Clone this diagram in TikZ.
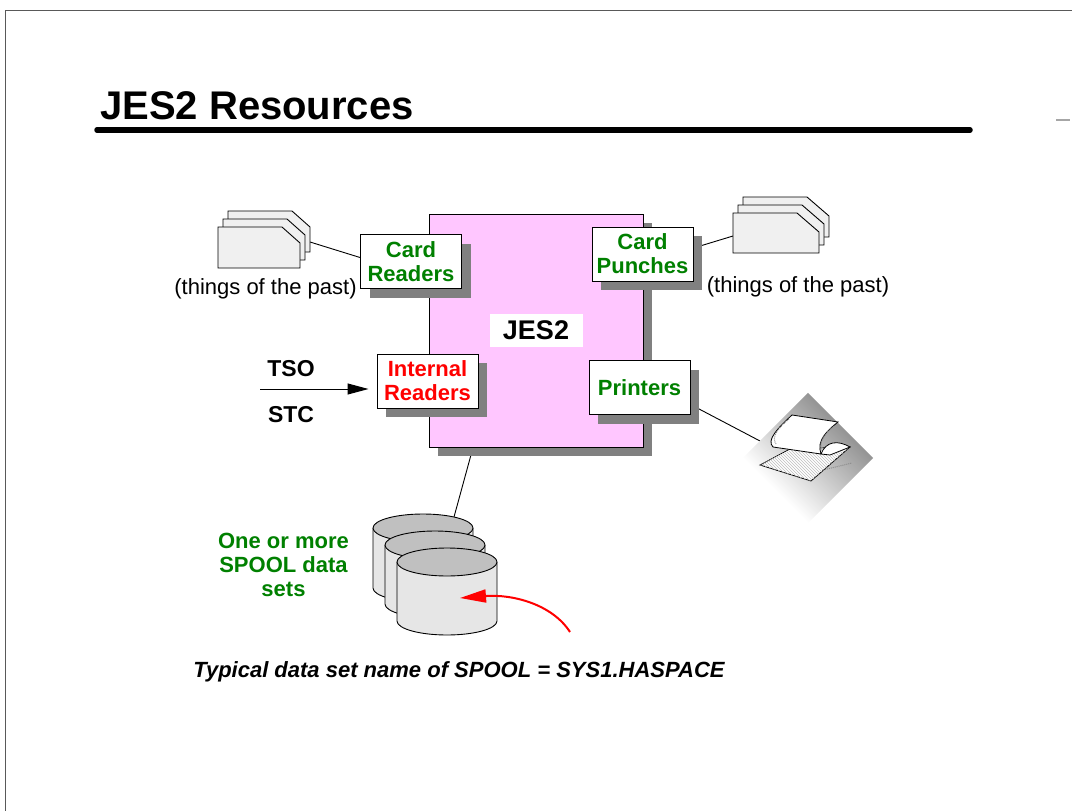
\documentclass[tikz,border=0pt]{standalone}
\usepackage{fontspec}
\setmainfont{Liberation Sans}
\usetikzlibrary{arrows.meta, shadows, backgrounds, patterns, positioning}
\definecolor{jespink}{RGB}{255,198,255}
\definecolor{resgreen}{RGB}{0,128,0}
\definecolor{resred}{RGB}{255,0,0}
\definecolor{shadowgray}{RGB}{128,128,128}
\definecolor{cardgray}{RGB}{240,240,240}
\definecolor{disktop}{RGB}{192,192,192}
\definecolor{diskside}{RGB}{230,230,230}

\begin{document}
\begin{tikzpicture}[x=1pt, y=-1pt,
    boxshadow/.style={drop shadow={shadow xshift=9pt, shadow yshift=-9pt, fill=shadowgray, opacity=1}},
    resbox/.style={draw, line width=1pt, fill=white, minimum width=101pt, minimum height=54pt,
        inner sep=0pt, align=center, font=\fontsize{22}{24}\selectfont\bfseries, boxshadow},
    note/.style={inner sep=0pt, font=\fontsize{22}{24}\selectfont},
    card/.style={draw, line width=0.9pt, fill=cardgray},
    disk/.style={draw, line width=0.9pt}]
    \useasboundingbox (0,0) rectangle (1072,811);

    % Page frame and title
    \draw[line width=1pt, black!65] (5,811) -- (5,10) -- (1072,10);
    \draw[line width=1.5pt, black!35] (1056,120) -- (1070,120);
    \node[anchor=base west, inner sep=0pt, font=\fontsize{40}{44}\selectfont\bfseries] (title) at (100,119) {JES2 Resources};
    \draw[line width=5.5pt, line cap=round] (97,130) -- (970,130);

    % JES2 address space
    \node[draw, line width=1pt, fill=jespink, minimum width=214pt, minimum height=233pt, boxshadow] (jes) at (536,330.5) {};
    \node[fill=white, minimum width=93pt, minimum height=33pt, inner sep=0pt,
        font=\fontsize{27}{30}\selectfont\bfseries] (jeslabel) at (536,330.5) {JES2};

    % Devices
    \node[resbox, text=resgreen] (creaders) at (411,261.5) {Card\\Readers};
    \node[resbox, text=resgreen] (cpunches) at (642.5,254) {Card\\Punches};
    \node[resbox, text=resred] (ireaders) at (427.5,381) {Internal\\Readers};
    \node[resbox, text=resgreen] (printers) at (639.5,387.5) {Printers};

    % Card decks
    \draw[card, shift={(228,211)}] (0,0) -- (64,0) -- (82,16) -- (82,41) -- (0,41) -- cycle;
    \draw[card, shift={(223,219)}] (0,0) -- (64,0) -- (82,16) -- (82,41) -- (0,41) -- cycle;
    \draw[card, shift={(218,227)}] (0,0) -- (64,0) -- (82,16) -- (82,41) -- (0,41) -- cycle;
    \draw[card, shift={(743,197)}] (0,0) -- (64,0) -- (86,19) -- (86,40) -- (0,40) -- cycle;
    \draw[card, shift={(738,205)}] (0,0) -- (64,0) -- (86,19) -- (86,40) -- (0,40) -- cycle;
    \draw[card, shift={(733,213)}] (0,0) -- (64,0) -- (86,19) -- (86,40) -- (0,40) -- cycle;
    \node[note, anchor=base] (pastl) at (265.5,294) {(things of the past)};
    \node[note, anchor=base] (pastr) at (798,292) {(things of the past)};

    % Printer with fanfold paper
    \begin{scope}[transform canvas={shift={(808,458)}, rotate=-45}]
        \shade[top color=black!42, bottom color=white] (-46,-46) rectangle (46,46);
    \end{scope}
    \draw[line width=0.8pt, fill=white, postaction={pattern=north west lines, pattern color=black!25}]
        (760,465) -- (790,449) -- (850,447) -- (811,481) -- cycle;
    \draw[black!45, densely dotted, line width=1pt] (823,470) -- (852,463);
    \draw[line width=0.8pt, fill=white] (821,454) .. controls (826,441) and (838,440) .. (850,447) -- (830,455) -- cycle;
    \draw[line width=0.8pt, fill=white] (792,415) -- (838,422) .. controls (828,430) and (816,440) .. (821,454)
        -- (773,447) .. controls (766,440) and (778,428) .. cycle;
    \draw[black!45, densely dotted, line width=1pt] (834,426) .. controls (826,433) and (818,441) .. (822,450);
    \draw[black!45, densely dotted, line width=1pt] (789,419) .. controls (778,428) and (771,437) .. (776,444);

    % SPOOL volumes
    \filldraw[disk, fill=diskside] (373,528) -- (373,588) arc[start angle=180, end angle=0, x radius=50, y radius=14] -- (473,528);
    \filldraw[disk, fill=disktop] (423,528) ellipse [x radius=50, y radius=14];
    \filldraw[disk, fill=diskside] (385,545) -- (385,604) arc[start angle=180, end angle=0, x radius=50, y radius=14] -- (485,545);
    \filldraw[disk, fill=disktop] (435,545) ellipse [x radius=50, y radius=14];
    \filldraw[disk, fill=diskside] (397,562) -- (397,621) arc[start angle=180, end angle=0, x radius=50, y radius=14] -- (497,562);
    \filldraw[disk, fill=disktop] (447,562) ellipse [x radius=50, y radius=14];
    \node[note, text=resgreen, font=\fontsize{22}{24}\selectfont\bfseries, align=center] (spooltxt) at (283.5,565) {One or more\\SPOOL data\\sets};

    % Inputs from TSO and started tasks
    \node[note, anchor=base, font=\fontsize{23}{26}\selectfont\bfseries] (tso) at (291,376) {TSO};
    \node[note, anchor=base, font=\fontsize{23}{26}\selectfont\bfseries] (stc) at (291,422) {STC};

    \node[note, anchor=base, font=\fontsize{22}{24}\selectfont\bfseries\itshape] (dsname) at (459,677) {Typical data set name of SPOOL = SYS1.HASPACE};

    % Connectors
    \coordinate (ldeck) at (310,242);
    \coordinate (rdeck) at (733,236);
    \coordinate (paper) at (760,441);
    \coordinate (spool) at (454,517);
    \coordinate (feed) at (260,389);
    \coordinate (hint) at (570,632);
    \coordinate (spooltip) at (460,598);
    \begin{scope}[on background layer]
        \draw[line width=0.9pt] ([yshift=4pt]creaders.west) -- (ldeck);
        \draw[line width=0.9pt] ([yshift=6pt]cpunches.east) -- (rdeck);
        \draw[line width=0.9pt] ([yshift=-17pt]printers.east) -- (paper);
        \draw[line width=0.9pt] ([xshift=-63pt]jes.south) -- (spool);
    \end{scope}
    \draw[line width=1pt, -{Triangle[length=21pt, width=11pt]}, shorten >=8pt] (feed) -- (feed -| ireaders.west);
    \draw[resred, line width=2pt, -{Triangle[length=26pt, width=13pt]}] (hint) .. controls (552,604) and (512,594) .. (spooltip);
\end{tikzpicture}
\end{document}
